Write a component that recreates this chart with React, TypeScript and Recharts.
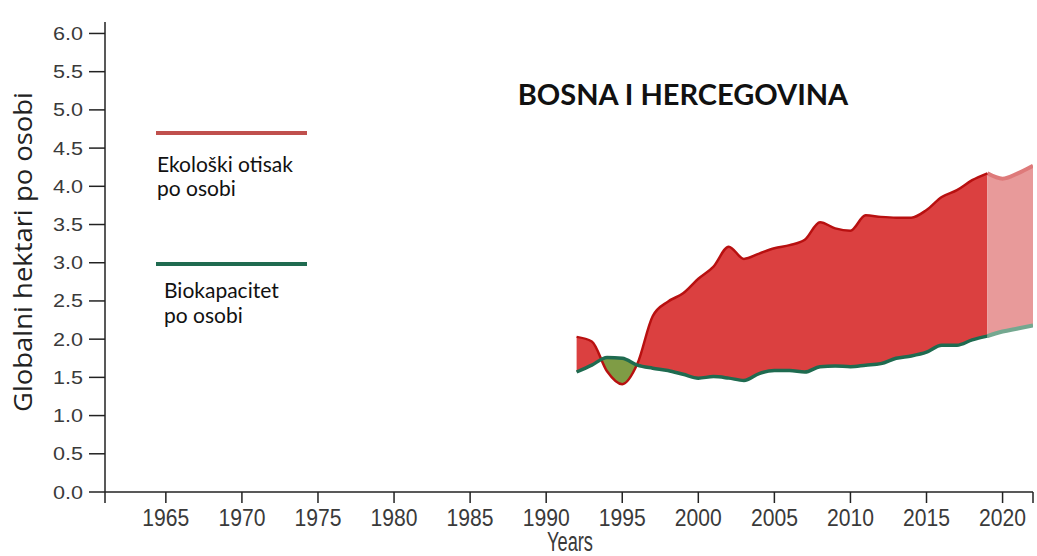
import {
  Area,
  ComposedChart,
  Line,
  XAxis,
  YAxis,
} from "recharts";

const years = [
  1992, 1993, 1994, 1995, 1996, 1997, 1998, 1999, 2000, 2001, 2002,
  2003, 2004, 2005, 2006, 2007, 2008, 2009, 2010, 2011, 2012, 2013,
  2014, 2015, 2016, 2017, 2018, 2019, 2020, 2021, 2022,
];

// Ekološki otisak po osobi (gha)
const footprint = [
  2.03, 1.97, 1.58, 1.41, 1.68, 2.3, 2.49, 2.6, 2.79, 2.95, 3.21,
  3.05, 3.12, 3.19, 3.23, 3.3, 3.53, 3.45, 3.42, 3.62, 3.6, 3.59,
  3.59, 3.69, 3.86, 3.95, 4.08, 4.17, 4.1, 4.17, 4.27,
];

// Biokapacitet po osobi (gha)
const biocapacity = [
  1.57, 1.66, 1.76, 1.75, 1.66, 1.62, 1.59, 1.54, 1.49, 1.51, 1.49,
  1.46, 1.55, 1.59, 1.59, 1.57, 1.64, 1.65, 1.64, 1.66, 1.68, 1.75,
  1.78, 1.83, 1.92, 1.92, 1.99, 2.04, 2.1, 2.14, 2.18,
];

const lastMeasured = 2019;

const xTicks = [1961, 1965, 1970, 1975, 1980, 1985, 1990, 1995, 2000, 2005, 2010, 2015, 2020, 2022];
const yTicks = [0, 0.5, 1, 1.5, 2, 2.5, 3, 3.5, 4, 4.5, 5, 5.5, 6];

const legendItems = [
  { lines: ["Ekološki otisak", "po osobi"], color: "#c0504d" },
  { lines: ["Biokapacitet", "po osobi"], color: "#1f6b50" },
];

const chartData = years.map((year, i) => ({
  year,
  foot: year <= lastMeasured ? footprint[i] : null,
  bio: year <= lastMeasured ? biocapacity[i] : null,
  projFoot: year >= lastMeasured ? footprint[i] : null,
  projBio: year >= lastMeasured ? biocapacity[i] : null,
}));

// where the two measured series cross, as fractions of the measured span
function crossings() {
  const out: number[] = [];
  const first = years[0];
  for (let i = 0; i < years.length - 1 && years[i + 1] <= lastMeasured; i++) {
    const a = footprint[i] - biocapacity[i];
    const b = footprint[i + 1] - biocapacity[i + 1];
    if (a * b < 0) {
      const t = a / (a - b);
      out.push((years[i] + t - first) / (lastMeasured - first));
    }
  }
  return out;
}

const RED = "#db4040";
const OLIVE = "#7f9c45";
const TICK_FONT = "'Liberation Sans', Arial, sans-serif";

function gapStops() {
  const stops: JSX.Element[] = [];
  let deficit = footprint[0] > biocapacity[0];
  stops.push(<stop key="s0" offset={0} stopColor={deficit ? RED : OLIVE} />);
  crossings().forEach((c, i) => {
    stops.push(<stop key={`a${i}`} offset={c} stopColor={deficit ? RED : OLIVE} />);
    deficit = !deficit;
    stops.push(<stop key={`b${i}`} offset={c} stopColor={deficit ? RED : OLIVE} />);
  });
  stops.push(<stop key="s1" offset={1} stopColor={deficit ? RED : OLIVE} />);
  return stops;
}

function XTick({ x, y, payload }: any) {
  if (payload.value === 1961 || payload.value === 2022) return null;
  return (
    <text
      x={x}
      y={y + 3}
      textAnchor="middle"
      dominantBaseline="hanging"
      fontSize={24}
      fill="#3a3a3a"
      fontFamily={TICK_FONT}
      textLength={47}
      lengthAdjust="spacingAndGlyphs"
    >
      {payload.value}
    </text>
  );
}

function YTick({ x, y, payload }: any) {
  return (
    <text
      x={x}
      y={y}
      textAnchor="end"
      dominantBaseline="central"
      fontSize={19}
      fill="#3a3a3a"
      fontFamily={TICK_FONT}
      textLength={30}
      lengthAdjust="spacingAndGlyphs"
    >
      {Number(payload.value).toFixed(1)}
    </text>
  );
}

function Overlay() {
  return (
    <svg
      width={1037}
      height={556}
      style={{ position: "absolute", left: 0, top: 0, pointerEvents: "none" }}
    >
      <text
        x={683}
        y={105}
        textAnchor="middle"
        fontFamily="Lato, sans-serif"
        fontWeight={700}
        fontSize={29}
        fill="#111"
      >
        BOSNA I HERCEGOVINA
      </text>
      {legendItems.map((it, i) => {
        const top = 133 + i * 131;
        return (
          <g key={i}>
            <line x1={156} x2={307} y1={top} y2={top} stroke={it.color} strokeWidth={4} />
            {it.lines.map((l, j) => (
              <text
                key={j}
                x={157 + i * 7}
                y={top + 39 + j * 24 - i * 5 + i * j}
                fontFamily="Lato, sans-serif"
                fontSize={21}
                fill="#111"
              >
                {l}
              </text>
            ))}
          </g>
        );
      })}
    </svg>
  );
}

export default function App() {
  return (
    <div style={{ position: "absolute", left: 0, top: 0, width: 1037, height: 556, background: "#fff" }}>
      <ComposedChart
        width={1037}
        height={556}
        data={chartData}
        margin={{ top: 22, right: 4, bottom: 0, left: 0 }}
      >
        <defs>
          <linearGradient id="gapFill" x1="0" y1="0" x2="1" y2="0">
            {gapStops()}
          </linearGradient>
        </defs>
        <XAxis
          type="number"
          dataKey="year"
          domain={[1961, 2022]}
          ticks={xTicks}
          interval={0}
          allowDataOverflow
          height={64}
          tickSize={11}
          tick={<XTick />}
          axisLine={{ stroke: "#222", strokeWidth: 1.5 }}
          tickLine={{ stroke: "#222", strokeWidth: 1.5 }}
          label={{
            content: ({ viewBox }: any) => (
              <text
                x={viewBox.x + viewBox.width / 2 + 1}
                y={viewBox.y + viewBox.height - 5}
                textAnchor="middle"
                fontSize={27}
                fill="#3a3a3a"
                fontFamily={TICK_FONT}
                textLength={46}
                lengthAdjust="spacingAndGlyphs"
              >
                Years
              </text>
            ),
          }}
        />
        <YAxis
          type="number"
          domain={[0, 6.15]}
          ticks={yTicks}
          interval={0}
          allowDataOverflow
          width={105}
          tickSize={16}
          tickMargin={6}
          tick={<YTick />}
          axisLine={{ stroke: "#222", strokeWidth: 1.5 }}
          tickLine={{ stroke: "#222", strokeWidth: 1.5 }}
          label={{
            content: ({ viewBox }: any) => {
              const cy = viewBox.y + viewBox.height / 2 - 5;
              return (
                <text
                  x={22}
                  y={cy}
                  transform={`rotate(-90, 22, ${cy})`}
                  textAnchor="middle"
                  dominantBaseline="central"
                  fontSize={25}
                  fill="#222"
                  fontFamily="'Open Sans', sans-serif"
                  textLength={320}
                  lengthAdjust="spacingAndGlyphs"
                >
                  Globalni hektari po osobi
                </text>
              );
            },
          }}
        />
        <Area
          type="monotone"
          dataKey={(d: any) => (d.foot == null ? null : [d.bio, d.foot])}
          fill="url(#gapFill)"
          fillOpacity={1}
          stroke="none"
          isAnimationActive={false}
        />
        <Area
          type="monotone"
          dataKey={(d: any) => (d.projFoot == null ? null : [d.projBio, d.projFoot])}
          fill="#e89a9a"
          fillOpacity={1}
          stroke="none"
          isAnimationActive={false}
        />
        <Line type="monotone" dataKey="projFoot" stroke="#de7a7a" strokeWidth={4} dot={false} isAnimationActive={false} />
        <Line type="monotone" dataKey="projBio" stroke="#74a890" strokeWidth={4} dot={false} isAnimationActive={false} />
        <Line type="monotone" dataKey="foot" stroke="#b81010" strokeWidth={2.5} dot={false} isAnimationActive={false} />
        <Line type="monotone" dataKey="bio" stroke="#1f6b50" strokeWidth={3.5} dot={false} isAnimationActive={false} />
      </ComposedChart>
      <Overlay />
    </div>
  );
}
